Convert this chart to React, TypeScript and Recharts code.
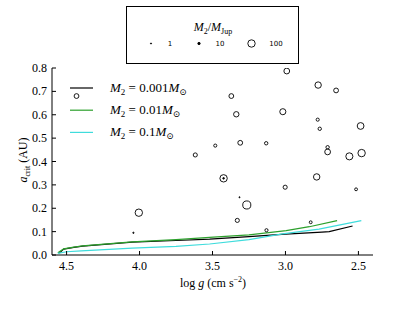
import React from 'react'
import { ComposedChart, Line, Scatter, XAxis, YAxis } from 'recharts'

// scatter planets: log g, a_crit (AU), M2 / M_Jup
const planetLogg = [
  4.432, 3.371, 2.991, 2.776, 2.653, 3.337, 3.018, 2.779, 2.765, 2.485,
  3.618, 3.481, 3.31, 3.132, 2.711, 2.711, 2.562, 2.478, 3.424, 3.424,
  2.786, 3.002, 2.516, 3.315, 3.265, 3.33, 3.13, 2.827, 4.005, 4.042,
]
const planetA = [
  0.68, 0.68, 0.787, 0.727, 0.704, 0.602, 0.613, 0.579, 0.54, 0.552,
  0.428, 0.468, 0.48, 0.478, 0.461, 0.441, 0.422, 0.436, 0.328, 0.328,
  0.334, 0.29, 0.281, 0.247, 0.214, 0.148, 0.106, 0.14, 0.181, 0.095,
]
const planetMass = [
  42, 42, 61, 75, 42, 53, 68, 18, 21, 84,
  31, 18, 42, 21, 21, 61, 92, 100, 100, 5,
  75, 31, 15, 2, 120, 31, 18, 15, 100, 3,
]

// critical separation curves for three companion masses
const loggM001 = [4.55, 4.52, 4.45, 4.39, 4.05, 3.75, 3.52, 3.25, 3.0, 2.75, 2.7, 2.54]
const aM001 = [0.008, 0.025, 0.033, 0.038, 0.055, 0.062, 0.068, 0.079, 0.089, 0.098, 0.1, 0.124]
const loggM01 = [4.56, 4.52, 4.45, 4.39, 4.05, 3.75, 3.52, 3.25, 2.995, 2.836, 2.646]
const aM01 = [0.01, 0.026, 0.034, 0.039, 0.056, 0.066, 0.075, 0.086, 0.104, 0.121, 0.147]
const loggM1 = [4.56, 4.5, 4.4, 4.05, 3.75, 3.52, 3.25, 3.02, 2.77, 2.48]
const aM1 = [0.007, 0.014, 0.018, 0.029, 0.037, 0.047, 0.066, 0.09, 0.111, 0.147]

const xTicks = [4.5, 4.0, 3.5, 3.0, 2.5]
const yTicks = [0, 0.1, 0.2, 0.3, 0.4, 0.5, 0.6, 0.7, 0.8]
const legendMasses = [1, 10, 100]

const planets = planetLogg.map((x, i) => ({ x, y: planetA[i], m: planetMass[i] }))
const zip = (xs: number[], ys: number[]) => xs.map((x, i) => ({ x, y: ys[i] }))

const SERIF = '"Liberation Serif", "DejaVu Serif", serif'
const radius = (m: number) => Math.max(0.55, 0.37 * Math.sqrt(m))

const Bubble = (props: any) => {
  const { cx, cy, payload } = props
  const r = radius(payload.m)
  return <circle cx={cx} cy={cy} r={r} fill={r < 1.3 ? '#000' : 'none'} stroke="#000" strokeWidth={0.9} />
}

const noTick = () => <g />

const XTick = (props: any) => {
  const { x, y, payload } = props
  return (
    <text x={x} y={y + 10} textAnchor="middle" fill="#000" fontFamily={SERIF} fontSize={12}>
      {payload.value.toFixed(1)}
    </text>
  )
}

const YTick = (props: any) => {
  const { x, y, payload } = props
  return (
    <text x={x} y={y + 4} textAnchor="end" fill="#000" fontFamily={SERIF} fontSize={12}>
      {payload.value.toFixed(1)}
    </text>
  )
}

const curves = [
  { name: '0.001', color: '#000000', data: zip(loggM001, aM001) },
  { name: '0.01', color: '#2ca02c', data: zip(loggM01, aM01) },
  { name: '0.1', color: '#3fdcdc', data: zip(loggM1, aM1) },
]

export default function App() {
  return (
    <div style={{ position: 'absolute', left: 0, top: 0, width: 415, height: 312, background: '#fff' }}>
      <ComposedChart
        width={415}
        height={312}
        margin={{ top: 68, right: 42, bottom: 27, left: 12 }}
      >
        <XAxis
          xAxisId="b"
          dataKey="x"
          type="number"
          domain={[2.4, 4.6]}
          reversed
          ticks={xTicks}
          height={30}
          tickSize={-4}
          tickMargin={9}
          stroke="#000"
          tick={XTick}
          allowDataOverflow
        />
        <XAxis
          xAxisId="t"
          orientation="top"
          dataKey="x"
          type="number"
          domain={[2.4, 4.6]}
          reversed
          ticks={xTicks}
          height={0}
          tickSize={-4}
          stroke="#000"
          tick={noTick}
        />
        <YAxis
          yAxisId="l"
          dataKey="y"
          type="number"
          domain={[0, 0.8]}
          ticks={yTicks}
          width={40}
          tickSize={-4}
          tickMargin={9}
          stroke="#000"
          tick={YTick}
          allowDataOverflow
        />
        <YAxis
          yAxisId="r"
          orientation="right"
          dataKey="y"
          type="number"
          domain={[0, 0.8]}
          ticks={yTicks}
          width={0}
          tickSize={-4}
          stroke="#000"
          tick={noTick}
        />
        {curves.map((c) => (
          <Line
            key={c.name}
            xAxisId="b"
            yAxisId="l"
            data={c.data}
            dataKey="y"
            type="linear"
            stroke={c.color}
            strokeWidth={1.2}
            dot={false}
            isAnimationActive={false}
          />
        ))}
        <Scatter
          xAxisId="b"
          yAxisId="l"
          data={planets}
          shape={Bubble}
          isAnimationActive={false}
        />
      </ComposedChart>
      <svg
        width={415}
        height={312}
        style={{ position: 'absolute', left: 0, top: 0, pointerEvents: 'none' }}
      >
        {/* size legend */}
        <rect x={126.5} y={6.5} width={172} height={57} fill="#fff" stroke="#000" strokeWidth={1} />
        <text x={213} y={31} textAnchor="middle" fill="#000" fontFamily={SERIF} fontSize={12}>
          <tspan fontStyle="italic">M</tspan>
          <tspan fontSize={8} dy={3}>2</tspan>
          <tspan dy={-3}>/</tspan>
          <tspan fontStyle="italic">M</tspan>
          <tspan fontSize={8} dy={3}>Jup</tspan>
        </text>
        {legendMasses.map((m, i) => {
          const cx = [151, 199, 251.5][i]
          const tx = [170, 220, 276][i]
          const r = radius(m)
          return (
            <g key={m}>
              <circle cx={cx} cy={43.5} r={r} fill={r < 1.3 ? '#000' : 'none'} stroke="#000" strokeWidth={0.9} />
              <text x={tx} y={46} textAnchor="middle" fill="#000" fontFamily='"DejaVu Sans", sans-serif' fontSize={7}>
                {m}
              </text>
            </g>
          )
        })}
        {/* line legend */}
        {curves.map((c, i) => (
          <g key={c.name}>
            <line x1={70} x2={93} y1={88 + i * 22.2} y2={88 + i * 22.2} stroke={c.color} strokeWidth={1.2} />
            <text x={110} y={92 + i * 22.2} fill="#000" fontFamily={SERIF} fontSize={13}>
              <tspan fontStyle="italic">M</tspan>
              <tspan fontSize={9} dy={3}>2</tspan>
              <tspan dy={-3}>{` = ${c.name}`}</tspan>
              <tspan fontStyle="italic">M</tspan>
              <tspan fontSize={9} dy={3}>⊙</tspan>
            </text>
          </g>
        ))}
        {/* axis titles */}
        <text x={213} y={287} textAnchor="middle" fill="#000" fontFamily={SERIF} fontSize={12}>
          log <tspan fontStyle="italic">g</tspan> (cm s
          <tspan fontSize={8} dy={-5}>−2</tspan>
          <tspan dy={5}>)</tspan>
        </text>
        <text
          transform="translate(27,160) rotate(-90)"
          textAnchor="middle"
          fill="#000"
          fontFamily={SERIF}
          fontSize={12}
        >
          <tspan fontStyle="italic">a</tspan>
          <tspan fontSize={8} dy={3}>crit</tspan>
          <tspan dy={-3}> (AU)</tspan>
        </text>
      </svg>
    </div>
  )
}
